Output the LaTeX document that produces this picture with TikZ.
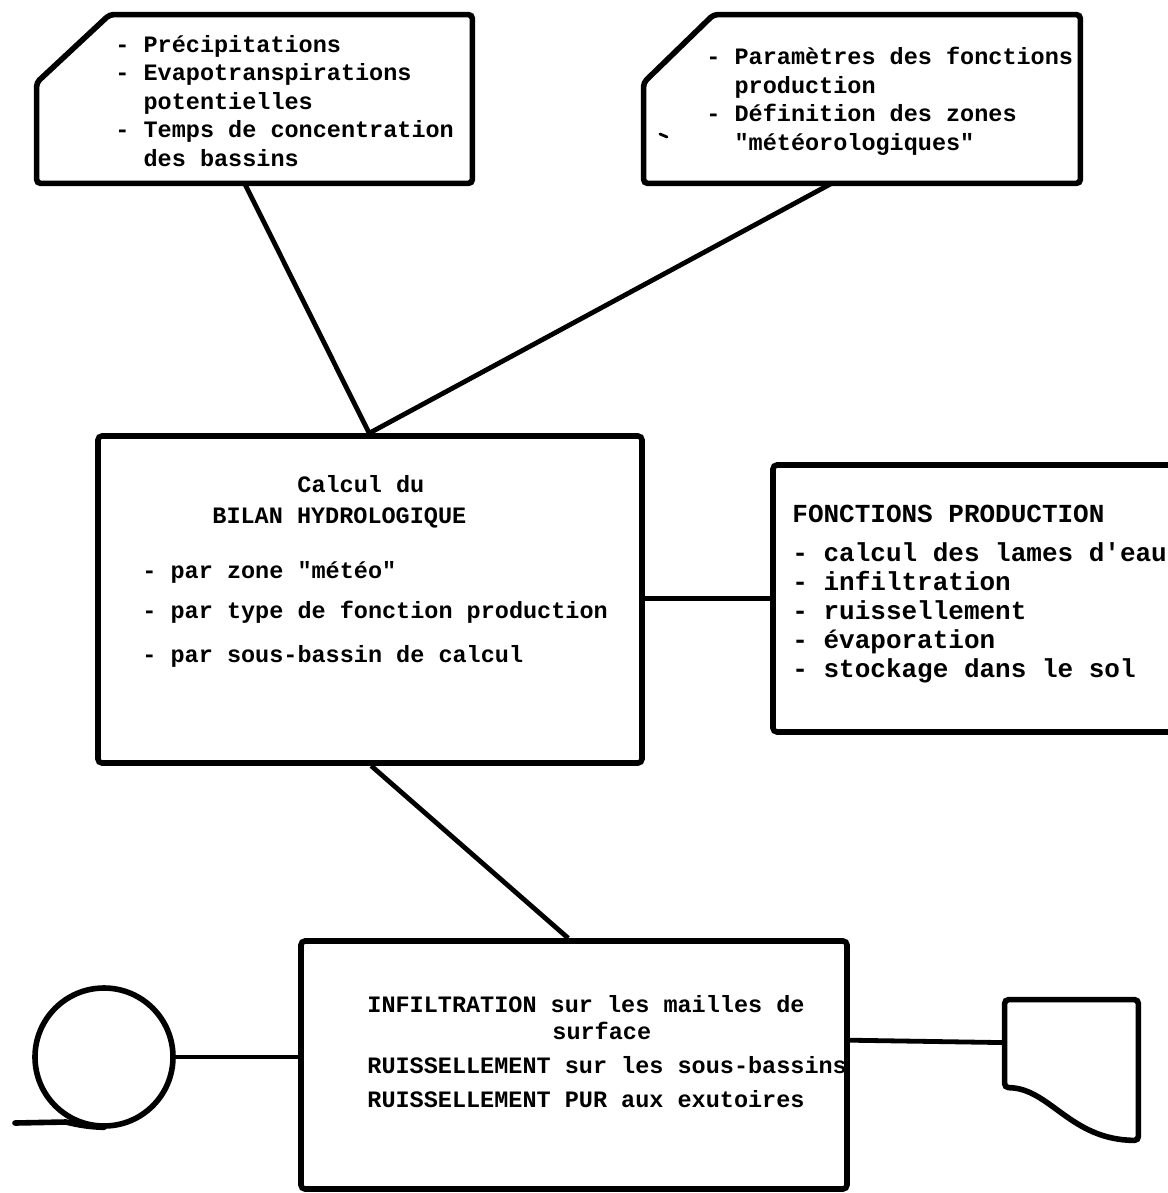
\documentclass[tikz,border=0pt]{standalone}
\usepackage{fontspec}
\newfontfamily\tw{Liberation Mono}
\usetikzlibrary{calc,fit}

\begin{document}
\begin{tikzpicture}[x=0.5pt,y=-0.5pt,
  frame/.style={draw=black, line width=2.8pt, rounded corners=2pt, inner sep=0pt},
  link/.style={draw=black, line width=2.4pt},
  area/.style={inner sep=0pt},
  txt/.style={inner sep=0pt, anchor=base west, align=left,
              font=\tw\bfseries\fontsize{11.75}{14.2}\selectfont},
  bigtxt/.style={txt, font=\tw\bfseries\fontsize{13}{14.4}\selectfont}
]
\useasboundingbox (0,0) rectangle (1167,1193);

% input cards (cut top-left corner)
\node[area, fit={(37,15) (472,183)}] (donnees) {};
\draw[frame] ($(donnees.north west)+(73,0)$) -- (donnees.north east)
  -- (donnees.south east) -- (donnees.south west)
  -- ($(donnees.north west)+(0,68)$) -- cycle;

\node[area, fit={(644,15) (1080,183)}] (params) {};
\draw[frame] ($(params.north west)+(70,0)$) -- (params.north east)
  -- (params.south east) -- (params.south west)
  -- ($(params.north west)+(0,68)$) -- cycle;
\draw[line width=1.4pt, line cap=round] (660,134) -- (667,137);

% processing boxes
\node[frame, fit={(98,436) (642,763)}] (bilan) {};
\node[frame, fit={(773,465) (1200,732)}] (fonctions) {};
\node[frame, fit={(301,941) (847,1189)}] (infil) {};

% magnetic tape
\node[draw, circle, line width=2.8pt, minimum size=69pt, inner sep=0pt] (bande) at (104,1057) {};
\draw[line width=2.8pt, line cap=round] (15,1123) -- (66,1122)
  .. controls (78,1125) and (90,1127) .. ($(bande.south)+(0,-1.5)$);

% document
\node[area, fit={(1005,1000) (1138,1140)}] (doc) {};
\draw[frame] (doc.north west) -- (doc.north east) -- (doc.south east)
  .. controls (1070,1140) and (1050,1088) .. ($(doc.north west)+(0,88)$) -- cycle;

% connectors
\draw[link] ($(donnees.south west)+(208,0)$) -- ($(bilan.north west)+(274,0)$);
\draw[link] ($(params.south west)+(188,0)$) -- ($(bilan.north west)+(274,0)$);
\draw[link] ($(bilan.north east)+(0,165)$) -- ($(fonctions.north west)+(0,136)$);
\draw[link] ($(bilan.south west)+(276,0)$) -- ($(infil.north west)+(270,0)$);
\draw[link] (bande.east) -- (bande.east -| infil.west);
\draw[link] ($(infil.north east)+(0,102)$) -- ($(doc.north west)+(0,43)$);

% texts (multi-line nodes are anchored on the baseline of their last line)
\node[txt] (t1) at (115,166) {- Précipitations\\- Evapotranspirations\\\phantom{- }potentielles\\- Temps de concentration\\\phantom{- }des bassins};
\node[txt] (t2) at (706,150) {- Paramètres des fonctions\\\phantom{- }production\\- Définition des zones\\\phantom{- }"météorologiques"};

\node[txt] (t3) at (297,492) {Calcul du};
\node[txt] (t4) at (212,523) {BILAN HYDROLOGIQUE};
\node[txt] (t5) at (142,578) {- par zone "météo"};
\node[txt] (t6) at (142,618) {- par type de fonction production};
\node[txt] (t7) at (142,662) {- par sous-bassin de calcul};

\node[bigtxt] (t8) at (792,522) {FONCTIONS PRODUCTION};
\node[bigtxt] (t9) at (792,677) {- calcul des lames d'eau\\- infiltration\\- ruissellement\\- évaporation\\- stockage dans le sol};

\node[txt] (t10) at (367,1012) {INFILTRATION sur les mailles de};
\node[txt] (t11) at (552,1039) {surface};
\node[txt] (t12) at (367,1073) {RUISSELLEMENT sur les sous-bassins};
\node[txt] (t13) at (367,1107) {RUISSELLEMENT PUR aux exutoires};
\end{tikzpicture}
\end{document}
